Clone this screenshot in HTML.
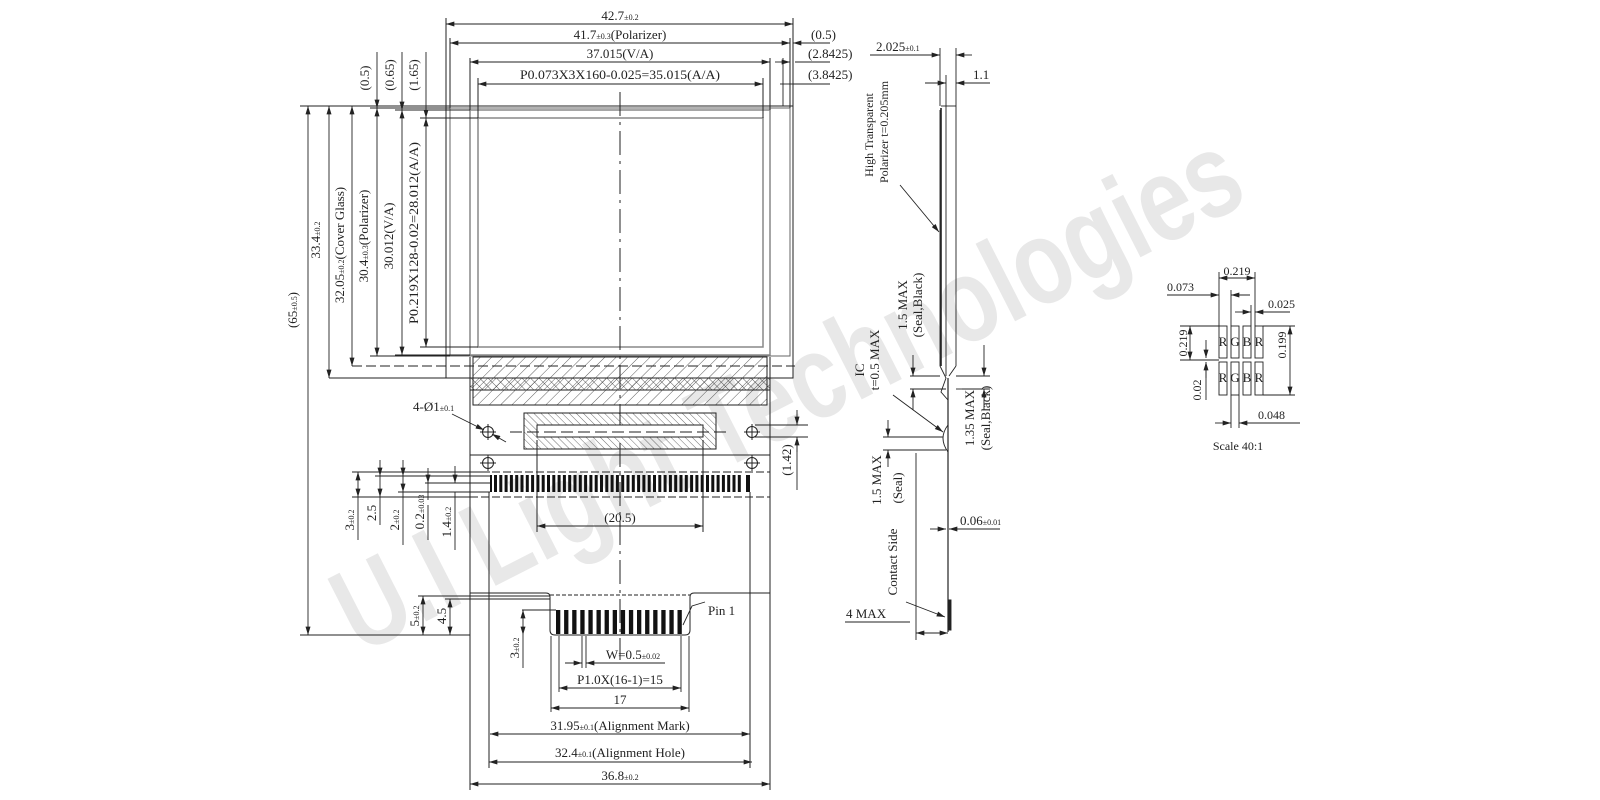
<!DOCTYPE html>
<html><head><meta charset="utf-8"><style>
html,body{margin:0;padding:0;background:#fff;}
svg{display:block;}
text{font-family:"Liberation Serif",serif;font-size:13px;fill:#222;}
.s{font-size:8px;}
</style></head><body>
<svg width="1600" height="800" viewBox="0 0 1600 800" xmlns="http://www.w3.org/2000/svg">
<defs>
<marker id="a" viewBox="0 0 10 6" refX="10" refY="3" markerWidth="9" markerHeight="5" markerUnits="userSpaceOnUse" orient="auto-start-reverse"><path d="M0,0 L10,3 L0,6 z" fill="#222"/></marker>
<pattern id="h1" width="8" height="8" patternUnits="userSpaceOnUse" patternTransform="rotate(45)"><line x1="0" y1="0" x2="0" y2="8" stroke="#333" stroke-width="0.8"/></pattern>
<pattern id="h2" width="6" height="6" patternUnits="userSpaceOnUse" patternTransform="rotate(45)"><line x1="0" y1="0" x2="0" y2="6" stroke="#333" stroke-width="0.8"/><line x1="0" y1="0" x2="6" y2="0" stroke="#333" stroke-width="0.8"/></pattern>
<pattern id="h3" width="5" height="5" patternUnits="userSpaceOnUse" patternTransform="rotate(-45)"><line x1="0" y1="0" x2="0" y2="5" stroke="#333" stroke-width="0.7"/></pattern>
</defs>

<!-- watermark -->
<text x="0" y="0" transform="translate(360,655) rotate(-27)" style="font-family:'Liberation Sans',sans-serif;font-size:120px;font-weight:bold;fill:#e8e8e8" textLength="1000" lengthAdjust="spacingAndGlyphs">U.I Light Technologies</text>

<g stroke="#222" stroke-width="1" fill="none">
<rect x="446" y="106" width="347" height="272"/>
<rect x="450" y="108" width="340" height="248" stroke="#666"/>
<rect x="470" y="110" width="300" height="245" stroke="#888" stroke-width="1.5"/>
<rect x="478" y="118" width="285" height="229" stroke="#888" stroke-width="1.5"/>
<line x1="446" y1="18" x2="446" y2="106"/>
<line x1="793" y1="18" x2="793" y2="106"/>
<line x1="450" y1="38" x2="450" y2="108"/>
<line x1="790" y1="38" x2="790" y2="108"/>
<line x1="470" y1="58" x2="470" y2="110"/>
<line x1="770" y1="58" x2="770" y2="110"/>
<line x1="478" y1="78" x2="478" y2="118"/>
<line x1="763" y1="78" x2="763" y2="118"/>
<line x1="620" y1="92" x2="620" y2="660" stroke-dasharray="24,6,3,6"/>

<rect x="473" y="357" width="294" height="48" fill="url(#h1)"/>
<rect x="470" y="378" width="300" height="12" fill="url(#h2)"/>
<line x1="352" y1="366" x2="795" y2="366" stroke-dasharray="10,4"/>
<line x1="329" y1="378" x2="446" y2="378"/>
<line x1="470" y1="357" x2="470" y2="790"/>
<line x1="770" y1="357" x2="770" y2="790"/>
<line x1="470" y1="455" x2="770" y2="455"/>
<path d="M470,593 L546,593 Q550,593 550,597 L550,630 Q550,635 555,635 L685,635 Q690,635 690,630 L690,597 Q690,593 694,593 L770,593"/>
<line x1="550" y1="595" x2="690" y2="595" stroke-dasharray="4,2"/>
<rect x="524" y="413" width="192" height="36" fill="url(#h3)"/>
<rect x="537" y="425" width="166" height="12" fill="#fff"/>
<line x1="510" y1="432" x2="730" y2="432" stroke-dasharray="12,5"/>
<circle cx="488" cy="432" r="5.5"/><line x1="480" y1="432" x2="496" y2="432"/><line x1="488" y1="424" x2="488" y2="440"/>
<circle cx="752" cy="432" r="5.5"/><line x1="744" y1="432" x2="760" y2="432"/><line x1="752" y1="424" x2="752" y2="440"/>
<circle cx="488" cy="463" r="5.5"/><line x1="480" y1="463" x2="496" y2="463"/><line x1="488" y1="455" x2="488" y2="471"/>
<circle cx="752" cy="463" r="5.5"/><line x1="744" y1="463" x2="760" y2="463"/><line x1="752" y1="455" x2="752" y2="471"/>
<line x1="470" y1="472" x2="770" y2="472" stroke-dasharray="8,3"/>
<line x1="470" y1="497" x2="770" y2="497" stroke-dasharray="8,3"/>
<line x1="489" y1="492" x2="489" y2="768"/>
<line x1="750" y1="492" x2="750" y2="768"/>
<line x1="537" y1="440" x2="537" y2="532"/>
<line x1="703" y1="440" x2="703" y2="532"/>
</g>
<g fill="#111">
<rect x="490" y="475" width="2" height="17"/>
<rect x="746" y="475" width="4" height="17"/>
<rect x="494" y="475" width="3" height="17"/><rect x="499.3" y="475" width="3" height="17"/><rect x="504.6" y="475" width="3" height="17"/><rect x="509.9" y="475" width="3" height="17"/><rect x="515.2" y="475" width="3" height="17"/><rect x="520.5" y="475" width="3" height="17"/><rect x="525.8" y="475" width="3" height="17"/><rect x="531.1" y="475" width="3" height="17"/><rect x="536.4" y="475" width="3" height="17"/><rect x="541.7" y="475" width="3" height="17"/><rect x="547" y="475" width="3" height="17"/><rect x="552.3" y="475" width="3" height="17"/><rect x="557.6" y="475" width="3" height="17"/><rect x="562.9" y="475" width="3" height="17"/><rect x="568.2" y="475" width="3" height="17"/><rect x="573.5" y="475" width="3" height="17"/><rect x="578.8" y="475" width="3" height="17"/><rect x="584.1" y="475" width="3" height="17"/><rect x="589.4" y="475" width="3" height="17"/><rect x="594.7" y="475" width="3" height="17"/><rect x="600" y="475" width="3" height="17"/><rect x="605.3" y="475" width="3" height="17"/><rect x="610.6" y="475" width="3" height="17"/><rect x="615.9" y="475" width="3" height="17"/><rect x="621.2" y="475" width="3" height="17"/><rect x="626.5" y="475" width="3" height="17"/><rect x="631.8" y="475" width="3" height="17"/><rect x="637.1" y="475" width="3" height="17"/><rect x="642.4" y="475" width="3" height="17"/><rect x="647.7" y="475" width="3" height="17"/><rect x="653" y="475" width="3" height="17"/><rect x="658.3" y="475" width="3" height="17"/><rect x="663.6" y="475" width="3" height="17"/><rect x="668.9" y="475" width="3" height="17"/><rect x="674.2" y="475" width="3" height="17"/><rect x="679.5" y="475" width="3" height="17"/><rect x="684.8" y="475" width="3" height="17"/><rect x="690.1" y="475" width="3" height="17"/><rect x="695.4" y="475" width="3" height="17"/><rect x="700.7" y="475" width="3" height="17"/><rect x="706" y="475" width="3" height="17"/><rect x="711.3" y="475" width="3" height="17"/><rect x="716.6" y="475" width="3" height="17"/><rect x="721.9" y="475" width="3" height="17"/><rect x="727.2" y="475" width="3" height="17"/><rect x="732.5" y="475" width="3" height="17"/><rect x="737.8" y="475" width="3" height="17"/>
</g>
<g fill="#111">
<rect x="556" y="610" width="4.3" height="24"/><rect x="564.1" y="610" width="4.3" height="24"/><rect x="572.2" y="610" width="4.3" height="24"/><rect x="580.3" y="610" width="4.3" height="24"/><rect x="588.4" y="610" width="4.3" height="24"/><rect x="596.5" y="610" width="4.3" height="24"/><rect x="604.6" y="610" width="4.3" height="24"/><rect x="612.7" y="610" width="4.3" height="24"/><rect x="620.8" y="610" width="4.3" height="24"/><rect x="628.9" y="610" width="4.3" height="24"/><rect x="637" y="610" width="4.3" height="24"/><rect x="645.1" y="610" width="4.3" height="24"/><rect x="653.2" y="610" width="4.3" height="24"/><rect x="661.3" y="610" width="4.3" height="24"/><rect x="669.4" y="610" width="4.3" height="24"/><rect x="677.5" y="610" width="4.3" height="24"/>
</g>

<g stroke="#222" stroke-width="0.9" fill="none">
<line x1="446" y1="24" x2="793" y2="24" marker-start="url(#a)" marker-end="url(#a)"/>
<line x1="450" y1="43" x2="790" y2="43" marker-start="url(#a)" marker-end="url(#a)"/>
<line x1="470" y1="62" x2="770" y2="62" marker-start="url(#a)" marker-end="url(#a)"/>
<line x1="478" y1="84" x2="763" y2="84" marker-start="url(#a)" marker-end="url(#a)"/>
<line x1="808" y1="43" x2="793" y2="43" marker-end="url(#a)"/><line x1="795" y1="43" x2="830" y2="43"/>
<line x1="775" y1="62" x2="790" y2="62" marker-end="url(#a)"/><line x1="795" y1="62" x2="830" y2="62"/>
<line x1="780" y1="84" x2="793" y2="84"/><line x1="793" y1="84" x2="830" y2="84"/>
<line x1="783" y1="58" x2="783" y2="106"/>
<line x1="300" y1="106" x2="446" y2="106"/>
<line x1="370" y1="108" x2="450" y2="108"/>
<line x1="395" y1="110" x2="470" y2="110"/>
<line x1="420" y1="118" x2="478" y2="118"/>
<line x1="420" y1="347" x2="478" y2="347"/>
<line x1="395" y1="355" x2="470" y2="355"/>
<line x1="370" y1="356" x2="450" y2="356"/>
<line x1="300" y1="635" x2="470" y2="635"/>
<line x1="308" y1="106" x2="308" y2="635" marker-start="url(#a)" marker-end="url(#a)"/>
<line x1="329" y1="106" x2="329" y2="378" marker-start="url(#a)" marker-end="url(#a)"/>
<line x1="352" y1="106" x2="352" y2="366" marker-start="url(#a)" marker-end="url(#a)"/>
<line x1="377" y1="108" x2="377" y2="356" marker-start="url(#a)" marker-end="url(#a)"/>
<line x1="402" y1="110" x2="402" y2="355" marker-start="url(#a)" marker-end="url(#a)"/>
<line x1="426" y1="118" x2="426" y2="347" marker-start="url(#a)" marker-end="url(#a)"/>
<line x1="377" y1="52" x2="377" y2="108" marker-end="url(#a)"/>
<line x1="402" y1="52" x2="402" y2="110" marker-end="url(#a)"/>
<line x1="426" y1="52" x2="426" y2="118" marker-end="url(#a)"/>
<line x1="452" y1="414" x2="484" y2="430" marker-end="url(#a)"/>
<line x1="506" y1="442" x2="492" y2="434" marker-end="url(#a)"/>
<line x1="755" y1="425" x2="808" y2="425"/>
<line x1="755" y1="437" x2="808" y2="437"/>
<line x1="797" y1="410" x2="797" y2="425" marker-end="url(#a)"/>
<line x1="797" y1="452" x2="797" y2="437" marker-end="url(#a)"/>
<line x1="797" y1="437" x2="797" y2="490"/>
<line x1="352" y1="472" x2="490" y2="472"/>
<line x1="375" y1="476" x2="490" y2="476"/>
<line x1="398" y1="492" x2="490" y2="492"/>
<line x1="425" y1="483" x2="490" y2="483"/>
<line x1="352" y1="497" x2="470" y2="497"/>
<line x1="358" y1="472" x2="358" y2="497" marker-start="url(#a)" marker-end="url(#a)"/>
<line x1="358" y1="497" x2="358" y2="540"/>
<line x1="380" y1="460" x2="380" y2="476" marker-end="url(#a)"/>
<line x1="380" y1="476" x2="380" y2="497" marker-end="url(#a)"/>
<line x1="380" y1="497" x2="380" y2="525"/>
<line x1="403" y1="460" x2="403" y2="476" marker-end="url(#a)"/>
<line x1="403" y1="476" x2="403" y2="492" marker-end="url(#a)"/>
<line x1="403" y1="492" x2="403" y2="545"/>
<line x1="428" y1="468" x2="428" y2="483" marker-end="url(#a)"/>
<line x1="428" y1="500" x2="428" y2="483"/>
<line x1="428" y1="505" x2="428" y2="540"/>
<line x1="455" y1="466" x2="455" y2="483" marker-end="url(#a)"/>
<line x1="455" y1="492" x2="455" y2="550"/>
<line x1="537" y1="526" x2="703" y2="526" marker-start="url(#a)" marker-end="url(#a)"/>
<line x1="418" y1="596" x2="550" y2="596"/>
<line x1="445" y1="599" x2="550" y2="599"/>
<line x1="522" y1="610" x2="556" y2="610"/>
<line x1="423" y1="596" x2="423" y2="635" marker-start="url(#a)" marker-end="url(#a)"/>
<line x1="450" y1="599" x2="450" y2="635" marker-start="url(#a)" marker-end="url(#a)"/>
<line x1="523" y1="610" x2="523" y2="635" marker-start="url(#a)" marker-end="url(#a)"/>
<line x1="523" y1="635" x2="523" y2="668"/>
<path d="M683,625 L692,606 L705,602"/>
<line x1="582" y1="636" x2="582" y2="668"/><line x1="586" y1="636" x2="586" y2="668"/>
<line x1="565" y1="663" x2="582" y2="663" marker-end="url(#a)"/>
<line x1="600" y1="663" x2="586" y2="663" marker-end="url(#a)"/>
<line x1="586" y1="663" x2="665" y2="663"/>
<line x1="559" y1="636" x2="559" y2="692"/><line x1="681" y1="636" x2="681" y2="692"/>
<line x1="559" y1="688" x2="681" y2="688" marker-start="url(#a)" marker-end="url(#a)"/>
<line x1="551" y1="636" x2="551" y2="712"/><line x1="689" y1="636" x2="689" y2="712"/>
<line x1="551" y1="708" x2="689" y2="708" marker-start="url(#a)" marker-end="url(#a)"/>
<line x1="490" y1="734" x2="750" y2="734" marker-start="url(#a)" marker-end="url(#a)"/>
<line x1="489" y1="762" x2="752" y2="762" marker-start="url(#a)" marker-end="url(#a)"/>
<line x1="470" y1="784" x2="770" y2="784" marker-start="url(#a)" marker-end="url(#a)"/>

<line x1="940" y1="48" x2="940" y2="106"/>
<line x1="956" y1="48" x2="956" y2="106"/>
<line x1="946" y1="75" x2="946" y2="106"/>
<line x1="870" y1="55" x2="940" y2="55"/>
<line x1="925" y1="55" x2="940" y2="55" marker-end="url(#a)"/>
<line x1="972" y1="55" x2="956" y2="55" marker-end="url(#a)"/>
<line x1="925" y1="83" x2="946" y2="83" marker-end="url(#a)"/>
<line x1="972" y1="83" x2="956" y2="83" marker-end="url(#a)"/>
<line x1="956" y1="83" x2="990" y2="83"/>
<line x1="941" y1="106" x2="956" y2="106"/>
<line x1="956" y1="106" x2="956" y2="366"/>
<line x1="946" y1="106" x2="946" y2="376"/>
<path d="M956,366 L949,376"/>
<path d="M940,110 L940,366 L946,378 L941,392 L948,400" />
<line x1="941" y1="108" x2="941" y2="366" stroke-width="1.6"/>
<path d="M948,378 L948,632" stroke-width="1.2"/>
<path d="M948,425 Q938,438 948,452" />
<path d="M948,600 L951,600 L951,630 L948,630" fill="#222"/>
<line x1="956" y1="376" x2="990" y2="376"/>
<line x1="956" y1="389" x2="962" y2="389"/>
<line x1="984" y1="345" x2="984" y2="376" marker-end="url(#a)"/>
<line x1="984" y1="410" x2="984" y2="389" marker-end="url(#a)"/>
<line x1="962" y1="389" x2="990" y2="389"/>
<line x1="910" y1="376" x2="940" y2="376"/>
<line x1="910" y1="389" x2="946" y2="389"/>
<line x1="913" y1="355" x2="913" y2="376" marker-end="url(#a)"/>
<line x1="913" y1="410" x2="913" y2="389" marker-end="url(#a)"/>
<line x1="893" y1="395" x2="943" y2="432" marker-end="url(#a)"/>
<line x1="883" y1="437" x2="943" y2="437"/>
<line x1="883" y1="450" x2="946" y2="450"/>
<line x1="888" y1="420" x2="888" y2="437" marker-end="url(#a)"/>
<line x1="888" y1="467" x2="888" y2="450" marker-end="url(#a)"/>
<line x1="930" y1="529" x2="946" y2="529" marker-end="url(#a)"/>
<line x1="966" y1="529" x2="949" y2="529" marker-end="url(#a)"/>
<line x1="949" y1="529" x2="1000" y2="529"/>
<line x1="906" y1="602" x2="945" y2="617" marker-end="url(#a)"/>
<line x1="916" y1="453" x2="916" y2="640"/>
<line x1="845" y1="622" x2="910" y2="622"/>
<line x1="916" y1="633" x2="948" y2="633" marker-start="url(#a)" marker-end="url(#a)"/>
<line x1="900" y1="185" x2="939" y2="232" marker-end="url(#a)"/>

<rect x="1219" y="326" width="8" height="32"/><rect x="1231" y="326" width="8" height="32"/><rect x="1243" y="326" width="8" height="32"/><rect x="1255" y="326" width="8" height="32"/>
<rect x="1219" y="362" width="8" height="33"/><rect x="1231" y="362" width="8" height="33"/><rect x="1243" y="362" width="8" height="33"/><rect x="1255" y="362" width="8" height="33"/>
<line x1="1219" y1="272" x2="1219" y2="326"/>
<line x1="1255" y1="272" x2="1255" y2="326"/>
<line x1="1219" y1="278" x2="1255" y2="278" marker-start="url(#a)" marker-end="url(#a)"/>
<line x1="1231" y1="290" x2="1231" y2="326"/>
<line x1="1167" y1="295" x2="1219" y2="295" marker-end="url(#a)"/>
<line x1="1250" y1="295" x2="1231" y2="295" marker-end="url(#a)"/>
<line x1="1251" y1="305" x2="1251" y2="326"/>
<line x1="1235" y1="312" x2="1251" y2="312" marker-end="url(#a)"/>
<line x1="1272" y1="312" x2="1255" y2="312" marker-end="url(#a)"/>
<line x1="1255" y1="312" x2="1290" y2="312"/>
<line x1="1180" y1="326" x2="1219" y2="326"/>
<line x1="1180" y1="360" x2="1219" y2="360"/>
<line x1="1263" y1="326" x2="1295" y2="326"/>
<line x1="1263" y1="395" x2="1295" y2="395"/>
<line x1="1190" y1="326" x2="1190" y2="360" marker-start="url(#a)" marker-end="url(#a)"/>
<line x1="1206" y1="340" x2="1206" y2="358" marker-end="url(#a)"/>
<line x1="1206" y1="378" x2="1206" y2="362" marker-end="url(#a)"/>
<line x1="1206" y1="362" x2="1206" y2="400"/>
<line x1="1290" y1="326" x2="1290" y2="395" marker-start="url(#a)" marker-end="url(#a)"/>
<line x1="1231" y1="395" x2="1231" y2="428"/>
<line x1="1239" y1="395" x2="1239" y2="428"/>
<line x1="1215" y1="423" x2="1231" y2="423" marker-end="url(#a)"/>
<line x1="1255" y1="423" x2="1239" y2="423" marker-end="url(#a)"/>
<line x1="1239" y1="423" x2="1300" y2="423"/>
</g>

<g style="font-size:9px" text-anchor="middle">
<text x="1223" y="346">R</text><text x="1235" y="346">G</text><text x="1247" y="346">B</text><text x="1259" y="346">R</text>
<text x="1223" y="382">R</text><text x="1235" y="382">G</text><text x="1247" y="382">B</text><text x="1259" y="382">R</text>
</g>

<g text-anchor="middle">
<text x="620" y="20">42.7<tspan class="s">±0.2</tspan></text>
<text x="620" y="39">41.7<tspan class="s">±0.3</tspan>(Polarizer)</text>
<text x="620" y="58">37.015(V/A)</text>
<text x="620" y="79" textLength="200" lengthAdjust="spacingAndGlyphs">P0.073X3X160-0.025=35.015(A/A)</text>
<text x="620" y="522">(20.5)</text>
<text x="633" y="659">W=0.5<tspan class="s">±0.02</tspan></text>
<text x="620" y="684">P1.0X(16-1)=15</text>
<text x="620" y="704">17</text>
<text x="620" y="730">31.95<tspan class="s">±0.1</tspan>(Alignment Mark)</text>
<text x="620" y="757">32.4<tspan class="s">±0.1</tspan>(Alignment Hole)</text>
<text x="620" y="780">36.8<tspan class="s">±0.2</tspan></text>
<text x="1238" y="450" style="font-size:12px">Scale 40:1</text>
<text x="1237" y="275" style="font-size:12px">0.219</text>
</g>
<text x="811" y="39">(0.5)</text>
<text x="808" y="58">(2.8425)</text>
<text x="808" y="79">(3.8425)</text>
<text x="413" y="411">4-Ø1<tspan class="s">±0.1</tspan></text>
<text x="708" y="615">Pin 1</text>
<text x="876" y="51">2.025<tspan class="s">±0.1</tspan></text>
<text x="973" y="79">1.1</text>
<text x="960" y="525">0.06<tspan class="s">±0.01</tspan></text>
<text x="846" y="618">4 MAX</text>
<text x="1167" y="291" style="font-size:12px">0.073</text>
<text x="1268" y="308" style="font-size:12px">0.025</text>
<text x="1258" y="419" style="font-size:12px">0.048</text>

<g text-anchor="middle">
<text transform="translate(297,310) rotate(-90)">(65<tspan class="s">±0.5</tspan>)</text>
<text transform="translate(320,240) rotate(-90)">33.4<tspan class="s">±0.2</tspan></text>
<text transform="translate(344,245) rotate(-90)">32.05<tspan class="s">±0.2</tspan>(Cover Glass)</text>
<text transform="translate(368,236) rotate(-90)">30.4<tspan class="s">±0.3</tspan>(Polarizer)</text>
<text transform="translate(393,236) rotate(-90)">30.012(V/A)</text>
<text transform="translate(418,233) rotate(-90)" textLength="182" lengthAdjust="spacingAndGlyphs">P0.219X128-0.02=28.012(A/A)</text>
<text transform="translate(369,78) rotate(-90)">(0.5)</text>
<text transform="translate(394,75) rotate(-90)">(0.65)</text>
<text transform="translate(418,75) rotate(-90)">(1.65)</text>
<text transform="translate(791,460) rotate(-90)">(1.42)</text>
<text transform="translate(354,520) rotate(-90)">3<tspan class="s">±0.2</tspan></text>
<text transform="translate(376,513) rotate(-90)">2.5</text>
<text transform="translate(399,520) rotate(-90)">2<tspan class="s">±0.2</tspan></text>
<text transform="translate(424,512) rotate(-90)">0.2<tspan class="s">±0.03</tspan></text>
<text transform="translate(451,522) rotate(-90)">1.4<tspan class="s">±0.2</tspan></text>
<text transform="translate(419,616) rotate(-90)">5<tspan class="s">±0.2</tspan></text>
<text transform="translate(446,616) rotate(-90)">4.5</text>
<text transform="translate(519,648) rotate(-90)">3<tspan class="s">±0.2</tspan></text>
<text transform="translate(873,135) rotate(-90)" style="font-size:12px">High Transparent</text>
<text transform="translate(888,132) rotate(-90)" style="font-size:12px">Polarizer t=0.205mm</text>
<text transform="translate(907,305) rotate(-90)">1.5 MAX</text>
<text transform="translate(922,305) rotate(-90)">(Seal,Black)</text>
<text transform="translate(864,370) rotate(-90)">IC</text>
<text transform="translate(879,360) rotate(-90)">t=0.5 MAX</text>
<text transform="translate(974,418) rotate(-90)">1.35 MAX</text>
<text transform="translate(990,418) rotate(-90)">(Seal,Black)</text>
<text transform="translate(881,480) rotate(-90)">1.5 MAX</text>
<text transform="translate(902,488) rotate(-90)">(Seal)</text>
<text transform="translate(897,562) rotate(-90)">Contact Side</text>
<text transform="translate(1187,343) rotate(-90)" style="font-size:12px">0.219</text>
<text transform="translate(1201,390) rotate(-90)" style="font-size:12px">0.02</text>
<text transform="translate(1286,345) rotate(-90)" style="font-size:12px">0.199</text>
</g>
</svg>
</body></html>
